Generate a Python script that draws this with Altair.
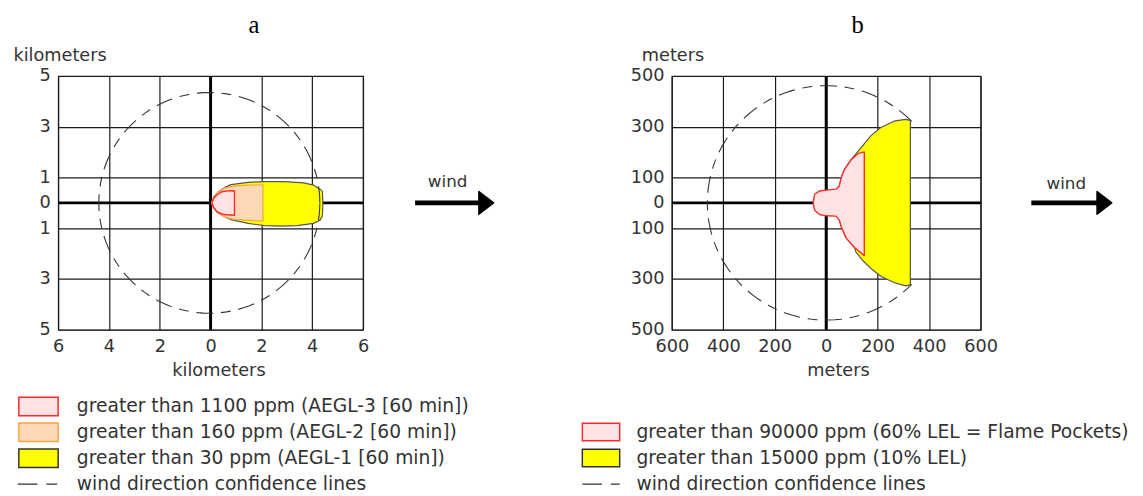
import math
import altair as alt
import pandas as pd

# ---------------- panel a (kilometers) ----------------
A_TICKS_X = [-6, -4, -2, 0, 2, 4, 6]
A_TICKS_Y = [5, 3, 1, 0, -1, -3, -5]
a_aegl1_x = [0.03, 0.13, 0.32, 0.58, 0.8, 1.48, 2.12, 2.9, 3.67, 4.05, 4.31, 4.4, 4.42,
             4.4, 4.31, 4.05, 3.41, 2.77, 2.12, 1.48, 0.8, 0.32, 0.13]
a_aegl1_y = [0.0, 0.24, 0.45, 0.62, 0.72, 0.81, 0.84, 0.84, 0.79, 0.70, 0.54, 0.45, 0.0,
             -0.52, -0.68, -0.81, -0.90, -0.92, -0.90, -0.81, -0.66, -0.42, -0.23]
a_aegl2_x = [0.03, 0.13, 0.3, 0.55, 0.97, 1.5, 2.06, 2.06, 1.5, 0.97, 0.55, 0.3, 0.13]
a_aegl2_y = [0.0, 0.22, 0.42, 0.58, 0.67, 0.70, 0.71, -0.71, -0.69, -0.66, -0.56, -0.40, -0.21]
a_aegl3_x = [0.05, 0.13, 0.26, 0.45, 0.77, 0.94, 0.94, 0.51, 0.26, 0.13]
a_aegl3_y = [0.0, 0.19, 0.32, 0.44, 0.48, 0.47, -0.49, -0.46, -0.36, -0.19]
a_circle = {"cx": -0.05, "cy": 0.0, "r": 4.35, "from": 0, "to": 360}
a_arrow = {"x0": 8.05, "x1": 10.7, "head": 10.85, "y": 0.0}
a_wind = {"x": 9.33, "y": 0.8, "text": "wind"}
a_labels = ["greater than 1100 ppm (AEGL-3 [60 min])",
            "greater than 160 ppm (AEGL-2 [60 min])",
            "greater than 30 ppm (AEGL-1 [60 min])",
            "wind direction confidence lines"]

# ---------------- panel b (meters) ----------------
B_TICKS_X = [-600, -400, -200, 0, 200, 400, 600]
B_TICKS_Y = [500, 300, 100, 0, -100, -300, -500]
b_lel10_x = [327, 308, 263, 212, 174, 142, 116, 96, 70, 58, 51, 51, 58, 77, 110, 116,
             142, 174, 212, 263, 308, 327]
b_lel10_y = [325, 329, 322, 297, 265, 226, 194, 169, 130, 98, 66, -68, -93, -138, -176, -195,
             -227, -259, -289, -314, -327, -323]
b_lel60_x = [-51, -45, -26, 0, 38, 51, 58, 70, 96, 123, 148, 148, 110, 77, 58, 51, 38, 0, -26, -45]
b_lel60_y = [0, 34, 47, 50, 54, 66, 98, 130, 169, 194, 201, -208, -176, -138, -93, -68, -52, -51, -46, -29]
b_circle = {"cx": 0.0, "cy": 0.0, "r": 462, "from": 44, "to": 316}
b_arrow = {"x0": 797, "x1": 1057, "head": 1081, "y": 0.0}
b_wind = {"x": 933, "y": 73, "text": "wind"}
b_labels = ["greater than 90000 ppm (60% LEL = Flame Pockets)",
            "greater than 15000 ppm (10% LEL)",
            "wind direction confidence lines"]

FONT = "DejaVu Sans"
TXT = "#333333"
GRID = "#1a1a1a"
H = 258
RECT = "M-1,-0.47H1V0.47H-1Z"
HEAD = "M-0.65,-1L0.65,0L-0.65,1Z"


def poly_df(xs, ys):
    xs = list(xs) + [xs[0]]
    ys = list(ys) + [ys[0]]
    return pd.DataFrame({"x": xs, "y": ys, "i": list(range(len(xs)))})


def circle_df(c, step=3):
    n = int(round((c["to"] - c["from"]) / step))
    rows = []
    for k in range(n + 1):
        ang = math.radians(c["from"] + (c["to"] - c["from"]) * k / n)
        rows.append({"x": c["cx"] + c["r"] * math.cos(ang),
                     "y": c["cy"] + c["r"] * math.sin(ang), "i": k})
    return pd.DataFrame(rows)


def panel(W, xdom, ydom, xticks, yticks, unit, polys, circle, arrow, wind, labels,
          swatches, leg_range, sw_x, sw_size, txt_x, dash_x, ytitle_x, xtitle_dx,
          title, title_dx):
    xsc = alt.Scale(domain=xdom, nice=False, zero=False)
    ysc = alt.Scale(domain=ydom, nice=False, zero=False)
    xaxis = alt.Axis(values=xticks, labelExpr="format(abs(datum.value), 'd')",
                     grid=True, gridColor=GRID, gridWidth=1.2, ticks=False, domain=False,
                     labelPadding=8, labelFlush=False, labelFont=FONT, labelFontSize=18,
                     labelColor=TXT, title=unit, titleFont=FONT, titleFontSize=18,
                     titleFontWeight="normal", titleColor=TXT, titleX=W / 2 + xtitle_dx,
                     titleY=47, titleBaseline="alphabetic")
    yaxis = alt.Axis(values=yticks, labelExpr="format(abs(datum.value), 'd')",
                     grid=True, gridColor=GRID, gridWidth=1.2, ticks=False, domain=False,
                     labelPadding=8, labelFont=FONT, labelFontSize=18, labelColor=TXT,
                     title=unit, titleFont=FONT, titleFontSize=18, titleFontWeight="normal",
                     titleColor=TXT, titleAngle=0, titleAlign="left", titleX=ytitle_x,
                     titleY=-16, titleBaseline="alphabetic")

    def X(f):
        return alt.X(f, scale=xsc, axis=xaxis)

    def Y(f):
        return alt.Y(f, scale=ysc, axis=yaxis)

    zero = pd.DataFrame({"v": [0]})
    layers = [
        alt.Chart(zero).mark_rule(color="black", strokeWidth=3).encode(x=X("v:Q")),
        alt.Chart(zero).mark_rule(color="black", strokeWidth=3).encode(y=Y("v:Q")),
    ]
    for xs, ys, fill, stroke, sw in polys:
        layers.append(
            alt.Chart(poly_df(xs, ys)).mark_line(fill=fill, stroke=stroke, strokeWidth=sw,
                                                 strokeJoin="round").encode(
                x=X("x:Q"), y=Y("y:Q"), order="i:Q"))
    layers.append(
        alt.Chart(circle_df(circle)).mark_line(stroke="#333333", strokeWidth=1.1,
                                               strokeDash=[17, 8, 10, 8]).encode(
            x=X("x:Q"), y=Y("y:Q"), order="i:Q"))
    ar = pd.DataFrame([arrow])
    layers.append(alt.Chart(ar).mark_rule(color="black", strokeWidth=5, strokeCap="butt").encode(
        x=X("x0:Q"), x2="x1:Q", y=Y("y:Q")))
    layers.append(alt.Chart(ar).mark_point(shape=HEAD, size=529, filled=True, color="black",
                                           opacity=1, stroke="black", strokeWidth=1.5,
                                           strokeJoin="round").encode(
        x=X("head:Q"), y=Y("y:Q")))
    layers.append(alt.Chart(pd.DataFrame([wind])).mark_text(font=FONT, fontSize=17, color=TXT,
                                                            baseline="middle").encode(
        x=X("x:Q"), y=Y("y:Q"), text="text:N"))
    main = alt.layer(*layers)

    # legend
    lsc = alt.Scale(type="point", domain=labels, range=leg_range, padding=0)
    nsw = len(swatches)
    sw_df = pd.DataFrame({"label": labels[:nsw],
                          "fill": [s[0] for s in swatches],
                          "stroke": [s[1] for s in swatches]})
    ly = alt.Y("label:N", scale=lsc, axis=None)
    sw_layer = alt.Chart(sw_df).mark_point(shape=RECT, size=sw_size, filled=True, opacity=1,
                                           strokeWidth=1.5).encode(
        x=alt.value(sw_x), y=ly,
        fill=alt.Fill("fill:N", scale=None),
        stroke=alt.Stroke("stroke:N", scale=None))
    txt_layer = alt.Chart(pd.DataFrame({"label": labels})).mark_text(
        font=FONT, fontSize=19, color=TXT, align="left", baseline="middle").encode(
        x=alt.value(txt_x), y=ly, text="label:N")
    dash_layer = alt.Chart(pd.DataFrame({"label": labels[-1:]})).mark_rule(
        color="#333333", strokeWidth=1.3, strokeDash=[20, 9, 11, 200]).encode(
        x=alt.value(dash_x[0]), x2=alt.value(dash_x[1]), y=ly)
    legend = alt.layer(sw_layer, txt_layer, dash_layer)

    return alt.layer(main, legend).resolve_scale(y="independent").properties(
        width=W, height=H,
        title=alt.TitleParams(title, font="Liberation Serif", fontSize=25, fontWeight="normal",
                              color="black", anchor="middle", frame="group", dx=title_dx,
                              offset=9))


RED_FILL, RED_LINE = "#ffe3e3", "#ff2a2a"
OR_FILL, OR_LINE = "#fcd8b4", "#f9a446"
YEL_FILL, YEL_LINE = "#ffff00", "#555555"

chart_a = panel(310, [-6, 6], [-5, 5], A_TICKS_X, A_TICKS_Y, "kilometers",
                [(a_aegl1_x, a_aegl1_y, YEL_FILL, YEL_LINE, 1.2),
                 (a_aegl2_x, a_aegl2_y, OR_FILL, OR_LINE, 1.2),
                 (a_aegl3_x, a_aegl3_y, RED_FILL, RED_LINE, 1.4)],
                a_circle, a_arrow, a_wind, a_labels,
                [(RED_FILL, RED_LINE), (OR_FILL, OR_LINE), (YEL_FILL, "#333333")],
                [336, 415], -20, 1600, 19, (-41, 0), -46, 8, "a", 44)

chart_b = panel(314, [-600, 600], [-500, 500], B_TICKS_X, B_TICKS_Y, "meters",
                [(b_lel10_x, b_lel10_y, YEL_FILL, YEL_LINE, 1.2),
                 (b_lel60_x, b_lel60_y, RED_FILL, RED_LINE, 1.4)],
                b_circle, b_arrow, b_wind, b_labels,
                [(RED_FILL, RED_LINE), (YEL_FILL, "#333333")],
                [362, 415], -72, 1444, -36, (-91, -53), -31, 12, "b", 32)

chart = alt.hconcat(chart_a, chart_b, spacing=84).properties(
    padding={"left": 4, "top": 0, "right": 5, "bottom": 2}
).configure_view(stroke=GRID, strokeWidth=1.2)

chart.save("out.html", embed_options={"renderer": "svg", "actions": False})
